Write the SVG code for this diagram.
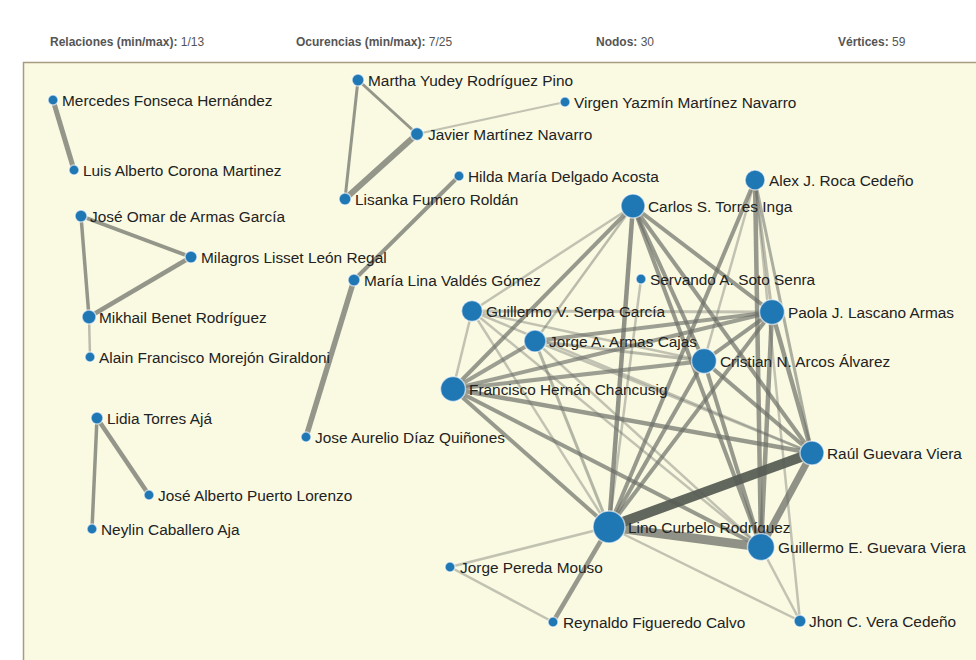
<svg xmlns="http://www.w3.org/2000/svg" width="976" height="660" viewBox="0 0 976 660">
<style>
.hd{font-family:"Liberation Sans",Arial,sans-serif;font-size:12px;fill:#555}
.hd .b{font-weight:bold}
.lb{font-family:"Liberation Sans",Arial,sans-serif;font-size:15.4px;fill:#222}
.nd{fill:#1f77b4;stroke:#fff;stroke-width:1.5;stroke-opacity:0.6}
#edges line{stroke:#6c6f68;stroke-linecap:butt}
.l{stroke-width:2.5;stroke-opacity:0.4}
.m{stroke-width:4;stroke-opacity:0.7}
.k{stroke-opacity:0.72}
</style>
<rect x="0" y="0" width="976" height="660" fill="#fff"/>
<g id="header" class="hd">
<text x="50" y="46"><tspan class="b">Relaciones (min/max):</tspan> 1/13</text>
<text x="296" y="46"><tspan class="b">Ocurencias (min/max):</tspan> 7/25</text>
<text x="596" y="46"><tspan class="b">Nodos:</tspan> 30</text>
<text x="838" y="46"><tspan class="b">Vértices:</tspan> 59</text>
</g>
<rect id="panel" x="23.5" y="62.5" width="960" height="610" fill="#fafae2" stroke="#a89c80" stroke-width="1.5"/>
<g id="edges">
<line class="k" x1="53" y1="100" x2="74" y2="170" stroke-width="5"/>
<line class="k" x1="81" y1="216" x2="191" y2="257" stroke-width="4"/>
<line class="k" x1="81" y1="216" x2="89" y2="317" stroke-width="3.5"/>
<line class="k" x1="191" y1="257" x2="89" y2="317" stroke-width="4.5"/>
<line x1="89" y1="317" x2="90" y2="357" stroke-width="2.5" stroke-opacity="0.45"/>
<line class="k" x1="97" y1="418" x2="149" y2="495" stroke-width="4.5"/>
<line class="k" x1="97" y1="418" x2="92" y2="529" stroke-width="3.5"/>
<line class="k" x1="358" y1="80" x2="417" y2="134" stroke-width="3"/>
<line class="k" x1="358" y1="80" x2="345" y2="199" stroke-width="3"/>
<line class="k" x1="417" y1="134" x2="345" y2="199" stroke-width="6"/>
<line x1="417" y1="134" x2="565" y2="102" stroke-width="2" stroke-opacity="0.4"/>
<line class="k" x1="459" y1="176" x2="354" y2="280" stroke-width="4"/>
<line class="k" x1="354" y1="280" x2="306" y2="437" stroke-width="5.5"/>

<line class="l" x1="472" y1="311" x2="633" y2="206"/>
<line x1="535" y1="341" x2="633" y2="206" stroke-width="2.5" stroke-opacity="0.45"/>
<line class="m" x1="453" y1="389" x2="633" y2="206"/>
<line class="l" x1="453" y1="389" x2="472" y2="311"/>
<line x1="453" y1="389" x2="535" y2="341" stroke-width="4" stroke-opacity="0.65"/>
<line x1="472" y1="311" x2="772" y2="312" stroke-width="3" stroke-opacity="0.4"/>
<line x1="535" y1="341" x2="772" y2="312" stroke-width="4" stroke-opacity="0.65"/>
<line x1="453" y1="389" x2="772" y2="312" stroke-width="4" stroke-opacity="0.65"/>
<line class="l" x1="472" y1="311" x2="704" y2="361"/>
<line x1="535" y1="341" x2="704" y2="361" stroke-width="3" stroke-opacity="0.45"/>
<line x1="453" y1="389" x2="704" y2="361" stroke-width="4" stroke-opacity="0.65"/>
<line class="m" x1="633" y1="206" x2="772" y2="312"/>
<line class="m" x1="633" y1="206" x2="704" y2="361"/>
<line class="m" x1="633" y1="206" x2="812" y2="453"/>
<line class="m" x1="633" y1="206" x2="761" y2="547"/>
<line x1="755" y1="180" x2="772" y2="312" stroke-width="3" stroke-opacity="0.45"/>
<line class="l" x1="755" y1="180" x2="704" y2="361"/>
<line x1="755" y1="180" x2="812" y2="453" stroke-width="3" stroke-opacity="0.55"/>
<line class="l" x1="755" y1="180" x2="800" y2="621"/>
<line x1="755" y1="180" x2="761" y2="547" stroke-width="4.5" stroke-opacity="0.7"/>
<line class="m" x1="772" y1="312" x2="704" y2="361"/>
<line x1="772" y1="312" x2="812" y2="453" stroke-width="4.5" stroke-opacity="0.7"/>
<line x1="772" y1="312" x2="761" y2="547" stroke-width="4.5" stroke-opacity="0.7"/>
<line class="m" x1="704" y1="361" x2="812" y2="453"/>
<line class="m" x1="704" y1="361" x2="761" y2="547"/>
<line x1="453" y1="389" x2="812" y2="453" stroke-width="4.5" stroke-opacity="0.7"/>
<line class="m" x1="453" y1="389" x2="761" y2="547"/>
<line class="l" x1="472" y1="311" x2="812" y2="453"/>
<line class="l" x1="535" y1="341" x2="812" y2="453"/>
<line class="l" x1="472" y1="311" x2="761" y2="547"/>
<line class="l" x1="535" y1="341" x2="761" y2="547"/>
<line class="l" x1="761" y1="547" x2="800" y2="621"/>
<line class="l" x1="609" y1="527" x2="800" y2="621"/>
<line class="l" x1="609" y1="527" x2="450" y2="567"/>
<line class="l" x1="450" y1="567" x2="553" y2="622"/>
<line x1="609" y1="527" x2="553" y2="622" stroke-width="4.5" stroke-opacity="0.7"/>
<line class="l" x1="609" y1="527" x2="641" y2="279"/>
<line class="l" x1="609" y1="527" x2="472" y2="311"/>
<line x1="609" y1="527" x2="535" y2="341" stroke-width="3" stroke-opacity="0.5"/>
<line class="m" x1="609" y1="527" x2="453" y2="389"/>
<line x1="609" y1="527" x2="633" y2="206" stroke-width="4.5" stroke-opacity="0.75"/>
<line class="m" x1="609" y1="527" x2="755" y2="180"/>
<line class="m" x1="609" y1="527" x2="772" y2="312"/>
<line class="m" x1="609" y1="527" x2="704" y2="361"/>
<line x1="761" y1="547" x2="812" y2="453" stroke-width="7" stroke-opacity="0.75"/>
<line x1="609" y1="527" x2="761" y2="547" stroke-width="9" stroke-opacity="0.75"/>
<line x1="609" y1="527" x2="812" y2="453" stroke-width="10" style="stroke:#555a52;stroke-opacity:0.92"/>
</g>
<g id="n1"><circle class="nd" cx="53" cy="100" r="5"/><text class="lb" x="62" y="105.5">Mercedes Fonseca Hernández</text></g>
<g id="n2"><circle class="nd" cx="74" cy="170" r="5"/><text class="lb" x="83" y="175.5">Luis Alberto Corona Martinez</text></g>
<g id="n3"><circle class="nd" cx="81" cy="216" r="6"/><text class="lb" x="90" y="221.5">José Omar de Armas García</text></g>
<g id="n4"><circle class="nd" cx="191" cy="257" r="6"/><text class="lb" x="201" y="262.5">Milagros Lisset León Regal</text></g>
<g id="n5"><circle class="nd" cx="89" cy="317" r="7"/><text class="lb" x="99" y="322.5">Mikhail Benet Rodríguez</text></g>
<g id="n6"><circle class="nd" cx="90" cy="357" r="5"/><text class="lb" x="99" y="362.5">Alain Francisco Morejón Giraldoni</text></g>
<g id="n7"><circle class="nd" cx="97" cy="418" r="6"/><text class="lb" x="107" y="423.5">Lidia Torres Ajá</text></g>
<g id="n8"><circle class="nd" cx="149" cy="495" r="5"/><text class="lb" x="158" y="500.5">José Alberto Puerto Lorenzo</text></g>
<g id="n9"><circle class="nd" cx="92" cy="529" r="5"/><text class="lb" x="101" y="534.5">Neylin Caballero Aja</text></g>
<g id="n10"><circle class="nd" cx="358" cy="80" r="6"/><text class="lb" x="368" y="85.5">Martha Yudey Rodríguez Pino</text></g>
<g id="n11"><circle class="nd" cx="565" cy="102" r="5"/><text class="lb" x="574" y="107.5">Virgen Yazmín Martínez Navarro</text></g>
<g id="n12"><circle class="nd" cx="417" cy="134" r="6.5"/><text class="lb" x="428" y="139.5">Javier Martínez Navarro</text></g>
<g id="n13"><circle class="nd" cx="345" cy="199" r="6"/><text class="lb" x="355" y="204.5">Lisanka Fumero Roldán</text></g>
<g id="n14"><circle class="nd" cx="459" cy="176" r="5"/><text class="lb" x="468" y="181.5">Hilda María Delgado Acosta</text></g>
<g id="n15"><circle class="nd" cx="354" cy="280" r="6"/><text class="lb" x="364" y="285.5">María Lina Valdés Gómez</text></g>
<g id="n16"><circle class="nd" cx="306" cy="437" r="5"/><text class="lb" x="315" y="442.5">Jose Aurelio Díaz Quiñones</text></g>
<g id="n17"><circle class="nd" cx="633" cy="206" r="12"/><text class="lb" x="648" y="211.5">Carlos S. Torres Inga</text></g>
<g id="n18"><circle class="nd" cx="755" cy="180" r="10"/><text class="lb" x="769" y="185.5">Alex J. Roca Cedeño</text></g>
<g id="n19"><circle class="nd" cx="641" cy="279" r="5"/><text class="lb" x="650" y="284.5">Servando A. Soto Senra</text></g>
<g id="n20"><circle class="nd" cx="472" cy="311" r="10.5"/><text class="lb" x="486" y="316.5">Guillermo V. Serpa García</text></g>
<g id="n21"><circle class="nd" cx="772" cy="312" r="12.5"/><text class="lb" x="788" y="317.5">Paola J. Lascano Armas</text></g>
<g id="n22"><circle class="nd" cx="535" cy="341" r="11"/><text class="lb" x="549" y="346.5">Jorge A. Armas Cajas</text></g>
<g id="n23"><circle class="nd" cx="704" cy="361" r="12.5"/><text class="lb" x="720" y="366.5">Cristian N. Arcos Álvarez</text></g>
<g id="n24"><circle class="nd" cx="453" cy="389" r="12.5"/><text class="lb" x="469" y="394.5">Francisco Hernán Chancusig</text></g>
<g id="n25"><circle class="nd" cx="812" cy="453" r="12"/><text class="lb" x="827" y="458.5">Raúl Guevara Viera</text></g>
<g id="n26"><circle class="nd" cx="609" cy="527" r="16"/><text class="lb" x="628" y="532.5">Lino Curbelo Rodríguez</text></g>
<g id="n27"><circle class="nd" cx="761" cy="547" r="13.5"/><text class="lb" x="778" y="552.5">Guillermo E. Guevara Viera</text></g>
<g id="n28"><circle class="nd" cx="450" cy="567" r="5"/><text class="lb" x="460" y="572.5">Jorge Pereda Mouso</text></g>
<g id="n29"><circle class="nd" cx="553" cy="622" r="5"/><text class="lb" x="563" y="627.5">Reynaldo Figueredo Calvo</text></g>
<g id="n30"><circle class="nd" cx="800" cy="621" r="6"/><text class="lb" x="809" y="626.5">Jhon C. Vera Cedeño</text></g>
</svg>
